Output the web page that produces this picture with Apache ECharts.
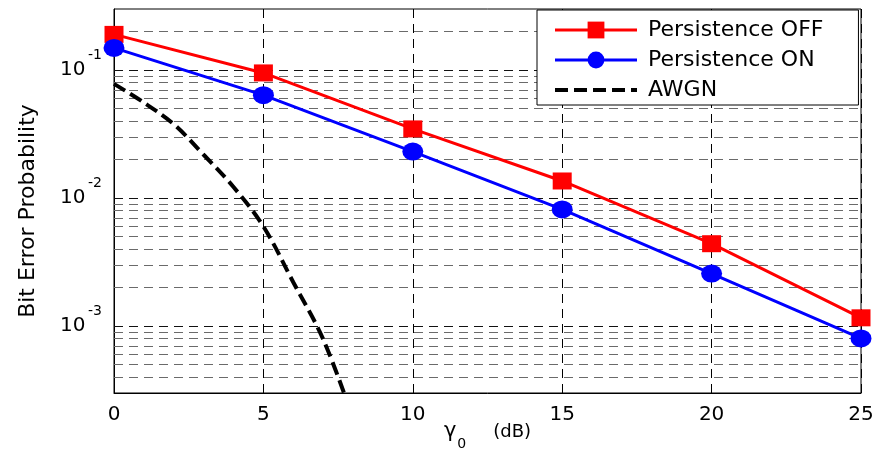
<!DOCTYPE html>
<html>
<head>
<meta charset="utf-8">
<script src="https://cdn.jsdelivr.net/npm/echarts@6/dist/echarts.min.js"></script>
<style>
html,body{margin:0;padding:0;background:#fff;}
#chart{width:880px;height:459px;}
</style>
</head>
<body>
<div id="chart"></div>
<script>
// ---- data ----
var gammaDb = [0, 5, 10, 15, 20, 25];
var berPersistenceOff = [0.19, 0.095, 0.0347, 0.0136, 0.0044, 0.00116];
var berPersistenceOn = [0.149, 0.0637, 0.0231, 0.00815, 0.00257, 0.00080];
var awgnDb = [0, 1, 2, 3, 4, 5, 6, 7, 8];
var berAwgn = [0.078, 0.0557, 0.0378, 0.0218, 0.0122, 0.0060, 0.0022, 0.00079, 0.00019];
var xTicks = [0, 5, 10, 15, 20, 25];
var yMajorGrid = [0.001, 0.01, 0.1];
var yMinorGrid = [0.0004, 0.0005, 0.0006, 0.0007, 0.0008, 0.0009,
  0.002, 0.003, 0.004, 0.005, 0.006, 0.007, 0.008, 0.009,
  0.02, 0.03, 0.04, 0.05, 0.06, 0.07, 0.08, 0.09, 0.2];
var seriesNames = ['Persistence OFF', 'Persistence ON', 'AWGN'];

var FONT = 'DejaVu Sans';

function zip(xs, ys) { return xs.map(function (x, i) { return [x, ys[i]]; }); }

var gridLines = [];
yMinorGrid.forEach(function (v) {
  gridLines.push({ yAxis: v, lineStyle: { color: '#6a6a6a', width: 1, type: [9, 6] } });
});
yMajorGrid.forEach(function (v) {
  gridLines.push({ yAxis: v, lineStyle: { color: '#111', width: 1, type: [9, 6] } });
});

var chart = echarts.init(document.getElementById('chart'), null, { renderer: 'canvas' });
chart.setOption({
  animation: false,
  backgroundColor: '#fff',
  grid: {
    left: 114, right: 19, top: 9, bottom: 66,
    show: true, borderColor: '#000', borderWidth: 1, backgroundColor: 'transparent',
    containLabel: false, outerBoundsMode: 'none'
  },
  legend: {
    data: [
      { name: seriesNames[0] },
      { name: seriesNames[1] },
      { name: seriesNames[2], itemStyle: { color: 'rgba(0,0,0,0)', borderWidth: 0 }, lineStyle: { width: 4 } }
    ],
    orient: 'vertical',
    left: 537, top: 10,
    padding: [9, 35, 4, 16],
    itemGap: 8,
    itemWidth: 82, itemHeight: 21,
    backgroundColor: '#fff',
    borderColor: '#000', borderWidth: 1, borderRadius: 0,
    lineStyle: { width: 3 },
    textStyle: { fontFamily: FONT, fontSize: 22, color: '#000', lineHeight: 22, padding: [0, 0, 0, 6] },
    selectedMode: false
  },
  xAxis: {
    type: 'value', min: 0, max: 25, interval: 5,
    axisLine: { show: true, lineStyle: { color: '#000', width: 1 } },
    axisTick: { show: false },
    axisLabel: { fontFamily: FONT, fontSize: 20, color: '#000', margin: 12,
      formatter: function (v) { return xTicks.indexOf(v) >= 0 ? String(v) : ''; } },
    splitLine: { show: true, lineStyle: { color: '#000', width: 1, type: [9, 6] } },
    name: '{g|γ}{sub|0}{t|(dB)}',
    nameLocation: 'middle', nameGap: 20, nameMoveOverlap: false,
    nameTextStyle: {
      color: '#000', fontFamily: FONT,
      rich: {
        g: { fontFamily: FONT, fontSize: 21, color: '#000' },
        sub: { fontFamily: FONT, fontSize: 14, color: '#000', padding: [24, 27, 0, 1] },
        t: { fontFamily: FONT, fontSize: 18, color: '#000' }
      }
    }
  },
  yAxis: {
    type: 'log', logBase: 10, min: 0.0003, max: 0.3,
    axisLine: { show: true, lineStyle: { color: '#000', width: 1 } },
    axisTick: { show: false },
    splitLine: { show: false },
    axisLabel: {
      margin: 11, color: '#000', fontFamily: FONT,
      showMinLabel: true, showMaxLabel: true,
      formatter: function (v) {
        var l = Math.log10(v);
        var r = Math.round(l);
        if (Math.abs(l - r) > 1e-6) return '';
        return '{b|10}{s|' + r + '}';
      },
      rich: {
        b: { fontFamily: FONT, fontSize: 20, color: '#000', width: 28, align: 'left' },
        s: { fontFamily: FONT, fontSize: 14, color: '#000', width: 15, align: 'left', padding: [0, 0, 30, 0] }
      }
    },
    name: 'Bit Error Probability',
    nameLocation: 'middle', nameGap: 75, nameRotate: 90, nameMoveOverlap: false,
    nameTextStyle: { fontFamily: FONT, fontSize: 22, color: '#000', padding: [0, 20, 0, 0] }
  },
  series: [
    {
      name: seriesNames[0], type: 'line', z: 3,
      data: zip(gammaDb, berPersistenceOff),
      symbol: 'rect', symbolSize: [19, 17],
      lineStyle: { color: '#ff0000', width: 3 },
      itemStyle: { color: '#ff0000' },
      emphasis: { disabled: true }
    },
    {
      name: seriesNames[1], type: 'line', z: 3,
      data: zip(gammaDb, berPersistenceOn),
      symbol: 'circle', symbolSize: [21, 18],
      lineStyle: { color: '#0000ff', width: 3 },
      itemStyle: { color: '#0000ff' },
      emphasis: { disabled: true }
    },
    {
      name: seriesNames[2], type: 'line', z: 2,
      data: zip(awgnDb, berAwgn),
      symbol: 'none', showSymbol: false, smooth: 0.35,
      lineStyle: { color: '#000', width: 4, type: [13, 6] },
      itemStyle: { color: '#000' },
      emphasis: { disabled: true },
      markLine: {
        silent: true, z: 1, animation: false, precision: 8,
        symbol: ['none', 'none'],
        label: { show: false },
        emphasis: { disabled: true },
        data: gridLines
      }
    }
  ]
});
</script>
</body>
</html>
